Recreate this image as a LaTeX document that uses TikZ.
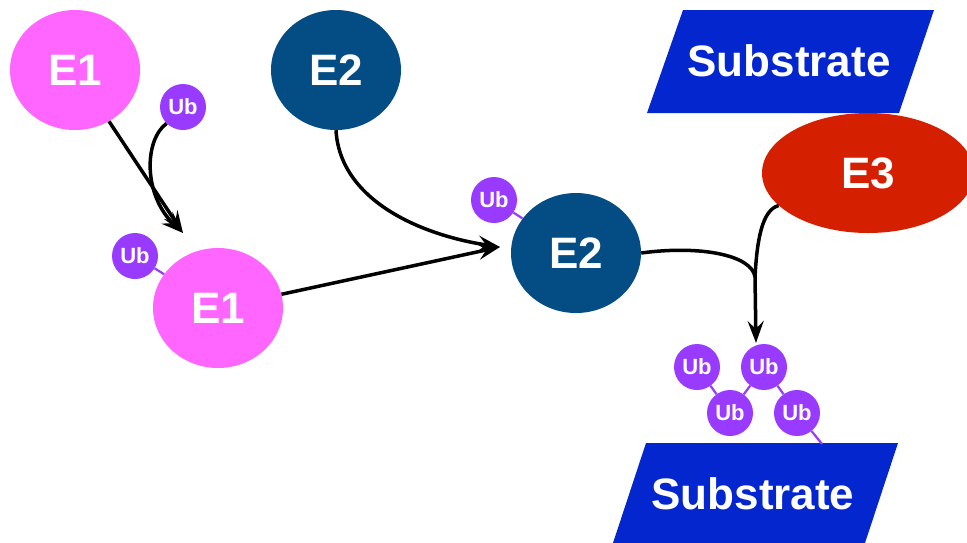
\documentclass[tikz,border=0pt]{standalone}
\usepackage{fontspec}
\setmainfont{Liberation Sans}
\usetikzlibrary{arrows.meta,shapes.geometric}
\definecolor{eone}{HTML}{FF66FF}
\definecolor{etwo}{HTML}{044C84}
\definecolor{ethree}{HTML}{D41F00}
\definecolor{subblue}{HTML}{0426CF}
\definecolor{ubpurple}{HTML}{993BFF}
\tikzset{
  enz/.style={ellipse, inner sep=0pt, minimum width=130pt, minimum height=120pt, text=white, font=\fontsize{44}{44}\selectfont\bfseries},
  ubnode/.style={circle, fill=ubpurple, inner sep=0pt, minimum size=46pt, text=white, font=\fontsize{22}{22}\selectfont\bfseries},
  subtext/.style={text=white, inner sep=0pt, font=\fontsize{44}{44}\selectfont\bfseries},
  arr/.style={line width=3.5pt, -{Stealth[length=22pt,width=16pt,inset=8pt]}},
  conn/.style={line width=3.5pt},
  ubline/.style={line width=2.2pt, draw=ubpurple},
}
\begin{document}
\begin{tikzpicture}[x=1pt,y=-1pt]
\useasboundingbox (0,0) rectangle (967,542);
% substrates
\fill[subblue] (683,10) -- (934,10) -- (899,113) -- (647,113) -- cycle;
\node[subtext] (sub1) at (789,61) {Substrate};
\fill[subblue] (646,443) -- (898,443) -- (864,546) -- (612,546) -- cycle;
\node[subtext] (sub2) at (753,494) {Substrate};
% enzymes
\node[enz, fill=eone] (e1a) at (75,70) {E1};
\node[enz, fill=eone] (e1b) at (218,308) {E1};
\node[enz, fill=etwo] (e2a) at (336,70) {E2};
\node[enz, fill=etwo] (e2b) at (576,253) {E2};
\node[enz, fill=ethree, minimum width=212pt] (e3) at (868,173) {E3};
% ubiquitins
\node[ubnode] (uba) at (183,107) {Ub};
\node[ubnode] (ubb) at (135,256) {Ub};
\node[ubnode] (ubc) at (494,200) {Ub};
\node[ubnode] (ub1) at (697,367) {Ub};
\node[ubnode] (ub2) at (764,367) {Ub};
\node[ubnode] (ub3) at (730,413) {Ub};
\node[ubnode] (ub4) at (797,413) {Ub};
% coordinates
\coordinate (t1) at (183,233);
\coordinate (t2) at (500,247);
\coordinate (j) at (755,277);
\coordinate (t3) at (756,343);
\coordinate (s2a) at (822,444);
% ub links
\draw[ubline] (ubb) -- (e1b);
\draw[ubline] (ubc) -- (e2b);
\draw[ubline] (ub1) -- (ub3);
\draw[ubline] (ub3) -- (ub2);
\draw[ubline] (ub2) -- (ub4);
\draw[ubline] (ub4) -- (s2a);
% arrows
\draw[arr] (e1a) -- (t1);
\draw[arr] (uba.225) .. controls (144,140) and (143,195) .. (t1);
\draw[arr] (e1b) -- (t2);
\draw[arr] (e2a.south) .. controls (340,200) and (420,235) .. (t2);
\draw[conn] (e2b.east) .. controls (700,245) and (752,255) .. (j);
\draw[conn] (e3.200) .. controls (762,210) and (757,240) .. (j);
\draw[arr] (j) -- (t3);
\end{tikzpicture}
\end{document}
